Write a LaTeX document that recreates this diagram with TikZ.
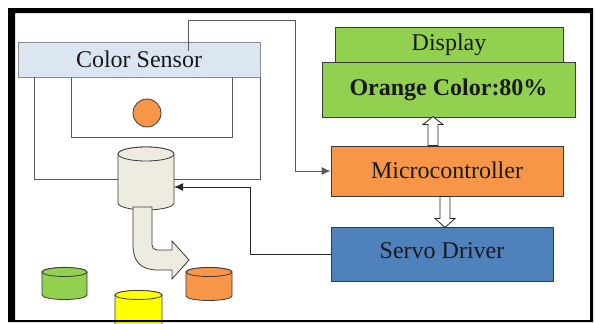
\documentclass[tikz,border=0pt]{standalone}
\usepackage{fontspec}
\setmainfont{Liberation Serif}
\usetikzlibrary{arrows.meta,calc}
\definecolor{sensorfill}{HTML}{DCE6F2}
\definecolor{lcdgreen}{HTML}{92D050}
\definecolor{mcuorange}{HTML}{F79646}
\definecolor{servoblue}{HTML}{4F81BD}
\definecolor{canbeige}{HTML}{EEECE1}
\definecolor{binyellow}{HTML}{FFFF00}
\definecolor{housing}{HTML}{5A5A5A}
\definecolor{edge}{HTML}{3A3A3A}
\begin{document}
\begin{tikzpicture}[x=1pt,y=-1pt,
  block/.style={draw=edge, line width=0.9pt, inner sep=0pt,
    font=\fontsize{24}{26}\selectfont, text=black!90},
  frame/.style={draw=housing, line width=0.8pt},
  wire/.style={draw=black!85, line width=0.9pt},
  tip/.style={-{Latex[length=9pt,width=8pt]}},
  hollow/.style={draw=black!85, fill=white, line width=0.8pt, line join=miter},
  pics/can/.style n args={4}{code={
    \path[draw=edge, fill=#4, line width=0.8pt]
      (-#1/2,0) -- (-#1/2,#2)
      arc[start angle=180, end angle=0, x radius=#1/2, y radius=#3]
      -- (#1/2,0)
      arc[start angle=0, end angle=-180, x radius=#1/2, y radius=#3] -- cycle;
    \path[draw=edge, fill=#4, line width=0.8pt]
      (0,0) ellipse[x radius=#1/2, y radius=#3];
  }}]
\useasboundingbox (0,0) rectangle (595,324);
\fill[white] (0,0) rectangle (595,324);

% sensor housing
\node[block, draw=black!45, fill=sensorfill, minimum width=242pt, minimum height=35pt]
  (sensor) at (139,59.5) {\raisebox{-2pt}{Color Sensor}};
\draw[frame] (34,77) |- (260,179) -- (260,77);
\draw[frame] (71,77) |- (232,137) -- (232,77);
\node[draw=edge, fill=mcuorange, circle, minimum size=28pt, inner sep=0pt, line width=0.8pt]
  (ball) at (147,113) {};

% main bin and sorted bins
\pic at (146,154) {can={56}{49}{7}{canbeige}};
\coordinate (canR) at (174,187);
\pic at (64.5,272) {can={45}{23}{4.5}{lcdgreen}};
\pic at (138.5,295) {can={47}{30}{4.5}{binyellow}};
\pic at (209,272) {can={46}{24}{4.5}{mcuorange}};

% bent chute arrow
\path[draw=edge, fill=canbeige, line width=0.8pt, line join=miter]
  (133,207) -- (133,245) .. controls (133,262) and (141,270) .. (158,270)
  -- (172,270) -- (172,279) -- (189,260) -- (172,241) -- (172,250)
  -- (157,250) .. controls (154,250) and (152,248) .. (152,245)
  -- (152,207) -- cycle;

% display and controller blocks
\node[block, fill=lcdgreen, minimum width=228pt, minimum height=35pt]
  (display) at (449,44.5) {\raisebox{-3pt}{Display}};
\node[block, fill=lcdgreen, minimum width=253pt, minimum height=55pt]
  (readout) at (448.5,89.5) {\raisebox{4pt}{\bfseries Orange Color:80\%}};
\node[block, fill=mcuorange, minimum width=232pt, minimum height=50pt]
  (micro) at (447,171) {\raisebox{2pt}{Microcontroller}};
\node[block, fill=servoblue, minimum width=222pt, minimum height=54pt]
  (servo) at (442,254) {\raisebox{6pt}{Servo Driver}};

% hollow data arrows
\path[hollow] ([xshift=-19pt]micro.north) -- ++(0,-21) -- ++(-5,0) -- ++(10,-8)
  -- ++(10,8) -- ++(-5,0) -- ++(0,21) -- cycle;
\path[hollow] ([xshift=-7pt]micro.south) -- ++(0,22) -- ++(-5,0) -- ++(10,9)
  -- ++(10,-9) -- ++(-5,0) -- ++(0,-22) -- cycle;

% signal wires
\coordinate (sig) at (188,51);
\draw[wire, draw=black!65, tip] (sig) |- (295,20) |- (micro.west);
\draw[wire, tip] (servo.west) -| (250,187) -- (canR);

% outer frame
\fill[black, even odd rule] (8,8) rectangle (593,322) (15,13) rectangle (590,320);
\end{tikzpicture}
\end{document}
